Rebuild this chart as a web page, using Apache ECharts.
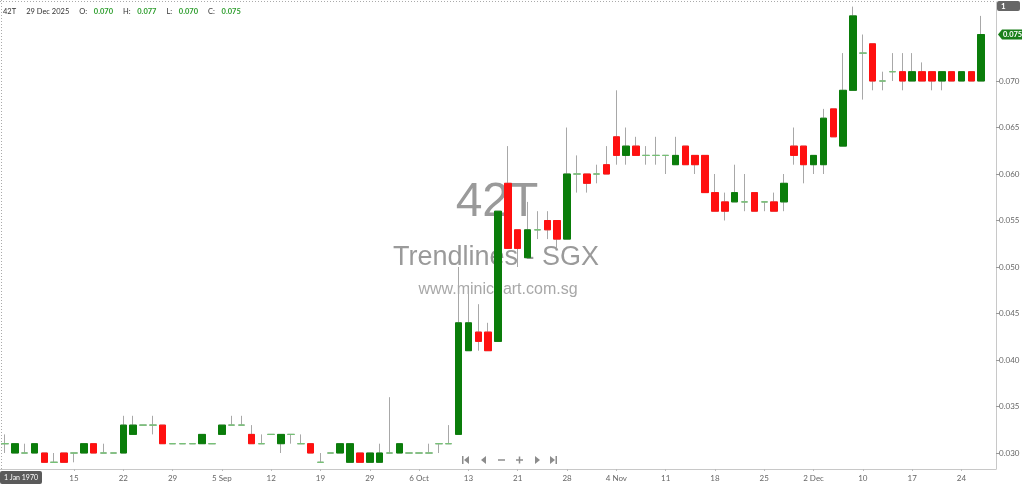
<!DOCTYPE html>
<html>
<head>
<meta charset="utf-8">
<script src="https://cdn.jsdelivr.net/npm/echarts@6/dist/echarts.min.js"></script>
<style>
  html, body { margin: 0; padding: 0; background: #fff; }
  #main { width: 1024px; height: 484px; }
</style>
</head>
<body>
<div id="main"></div>
<script>
// trading days shown on the chart
var dates = [
  '2025-08-05','2025-08-06','2025-08-07','2025-08-08','2025-08-12','2025-08-13','2025-08-14','2025-08-15',
  '2025-08-18','2025-08-19','2025-08-20','2025-08-21','2025-08-22','2025-08-25','2025-08-26','2025-08-27',
  '2025-08-28','2025-08-29','2025-09-01','2025-09-02','2025-09-03','2025-09-04','2025-09-05','2025-09-08',
  '2025-09-09','2025-09-10','2025-09-11','2025-09-12','2025-09-15','2025-09-16','2025-09-17','2025-09-18',
  '2025-09-19','2025-09-22','2025-09-23','2025-09-24','2025-09-25','2025-09-29','2025-09-30','2025-10-01',
  '2025-10-02','2025-10-03','2025-10-06','2025-10-07','2025-10-08','2025-10-09','2025-10-10','2025-10-13',
  '2025-10-14','2025-10-15','2025-10-16','2025-10-17','2025-10-21','2025-10-22','2025-10-23','2025-10-24',
  '2025-10-27','2025-10-28','2025-10-29','2025-10-30','2025-10-31','2025-11-03','2025-11-04','2025-11-05',
  '2025-11-06','2025-11-07','2025-11-10','2025-11-11','2025-11-12','2025-11-13','2025-11-14','2025-11-17',
  '2025-11-18','2025-11-19','2025-11-20','2025-11-21','2025-11-24','2025-11-25','2025-11-26','2025-11-27',
  '2025-11-28','2025-12-01','2025-12-02','2025-12-03','2025-12-04','2025-12-05','2025-12-08','2025-12-10',
  '2025-12-11','2025-12-12','2025-12-15','2025-12-16','2025-12-17','2025-12-18','2025-12-19','2025-12-22',
  '2025-12-23','2025-12-24','2025-12-26','2025-12-29'
];

var opens = [
  .031,.030,.030,.030,.030,.029,.030,.030,.030,.031,.030,.030,.030,.032,.033,.033,.033,.031,.031,.031,
  .031,.031,.032,.033,.033,.032,.031,.032,.031,.032,.031,.031,.029,.030,.030,.029,.030,.029,.029,.030,
  .030,.030,.030,.030,.031,.031,.032,.041,.043,.043,.042,.059,.054,.051,.054,.055,.055,.053,.060,.060,
  .060,.061,.064,.062,.063,.062,.062,.062,.061,.063,.062,.062,.058,.057,.057,.057,.058,.057,.057,.057,
  .063,.063,.061,.061,.067,.063,.069,.073,.074,.070,.071,.071,.070,.071,.071,.070,.071,.070,.071,.070
];
var highs = [
  .032,.031,.031,.031,.030,.030,.030,.030,.031,.031,.031,.030,.034,.034,.033,.034,.033,.031,.031,.031,
  .032,.031,.033,.034,.034,.033,.032,.032,.032,.032,.032,.031,.030,.030,.031,.031,.030,.030,.031,.036,
  .031,.030,.030,.031,.031,.033,.050,.048,.046,.044,.056,.063,.054,.057,.056,.056,.055,.065,.062,.060,
  .061,.063,.069,.065,.064,.063,.064,.062,.064,.063,.062,.062,.060,.058,.061,.060,.058,.057,.058,.060,
  .065,.063,.062,.067,.067,.073,.078,.075,.074,.071,.073,.073,.073,.072,.071,.071,.071,.071,.071,.077
];
var lows = [
  .030,.030,.030,.030,.029,.029,.029,.029,.030,.030,.030,.030,.030,.032,.033,.032,.031,.031,.031,.031,
  .031,.031,.032,.033,.033,.031,.031,.032,.030,.031,.031,.030,.029,.030,.030,.029,.029,.029,.029,.030,
  .030,.030,.030,.030,.030,.031,.032,.041,.041,.041,.042,.052,.050,.051,.053,.053,.052,.053,.058,.058,
  .059,.060,.061,.061,.062,.061,.061,.060,.061,.061,.060,.058,.056,.055,.057,.056,.056,.056,.056,.056,
  .061,.059,.060,.060,.064,.063,.069,.068,.069,.069,.070,.069,.070,.070,.069,.069,.070,.070,.070,.070
];
var closes = [
  .031,.031,.030,.031,.029,.029,.029,.030,.031,.030,.030,.030,.033,.033,.033,.033,.031,.031,.031,.031,
  .032,.031,.033,.033,.033,.031,.031,.032,.032,.032,.031,.030,.029,.030,.031,.031,.029,.030,.030,.030,
  .031,.030,.030,.030,.031,.031,.044,.044,.042,.041,.056,.052,.052,.054,.054,.054,.053,.060,.060,.059,
  .060,.060,.062,.063,.062,.062,.062,.062,.062,.061,.061,.058,.056,.056,.058,.057,.056,.057,.056,.059,
  .062,.061,.062,.066,.064,.069,.077,.073,.070,.070,.071,.070,.071,.070,.070,.071,.070,.071,.070,.075
];

var xTickIdx = [7, 12, 17, 22, 27, 32, 37, 42, 47, 52, 57, 62, 67, 72, 77, 82, 87, 92, 97];
var xTickLabels = ['15','22','29','5 Sep','12','19','29','6 Oct','13','21','28','4 Nov','11','18','25','2 Dec','10','17','24'];
var yTicks = [0.030, 0.035, 0.040, 0.045, 0.050, 0.055, 0.060, 0.065, 0.070];

var wickData = dates.map(function (d, i) { return [opens[i], closes[i], lows[i], highs[i]]; });
var bodyData = dates.map(function (d, i) {
  return [opens[i], closes[i], Math.min(opens[i], closes[i]), Math.max(opens[i], closes[i])];
});

var last = dates.length - 1;
var M = ['Jan','Feb','Mar','Apr','May','Jun','Jul','Aug','Sep','Oct','Nov','Dec'];
var lp = dates[last].split('-');
var lastDate = (+lp[2]) + ' ' + M[+lp[1] - 1] + ' ' + lp[0];

var chart = echarts.init(document.getElementById('main'));
var font = 'Lato, "Open Sans", sans-serif';

var option = {
  animation: false,
  backgroundColor: '#fff',
  grid: { left: 0, right: 28, top: 2, bottom: 15, containLabel: false },
  xAxis: {
    type: 'category',
    data: dates,
    max: 100,
    boundaryGap: true,
    axisLine: { show: true, lineStyle: { color: '#c8c8c8', width: 1 } },
    axisTick: {
      show: true, alignWithLabel: true, length: 2,
      interval: function (i) { return xTickIdx.indexOf(i) >= 0; },
      lineStyle: { color: '#bbb' }
    },
    axisLabel: {
      interval: function (i) { return xTickIdx.indexOf(i) >= 0; },
      formatter: function (v, i) {
        var k = xTickIdx.indexOf(i);
        return k >= 0 ? xTickLabels[k] : '';
      },
      color: '#666', fontSize: 8, fontFamily: font, margin: 5
    },
    splitLine: { show: false }
  },
  yAxis: {
    type: 'value',
    position: 'right',
    scale: true,
    min: 0.030 - 16 / 9300,
    max: 0.030 + 451 / 9300,
    axisLine: { show: true, lineStyle: { color: '#c8c8c8', width: 1 } },
    axisTick: { show: true, length: 3, customValues: yTicks, lineStyle: { color: '#999' } },
    axisLabel: {
      customValues: yTicks,
      formatter: function (v) { return v.toFixed(3); },
      color: '#666', fontSize: 8, fontFamily: font, margin: 3
    },
    splitLine: { show: false }
  },
  series: [
    {
      type: 'candlestick',
      name: 'wick',
      data: wickData,
      barWidth: 7,
      silent: true,
      itemStyle: {
        color: 'rgba(0,0,0,0)', color0: 'rgba(0,0,0,0)',
        borderColor: '#a8a8a8', borderColor0: '#a8a8a8', borderColorDoji: '#a8a8a8',
        borderWidth: 1
      }
    },
    {
      type: 'candlestick',
      name: 'body',
      data: bodyData,
      barWidth: 7,
      silent: true,
      itemStyle: {
        color: '#0a7d0a', color0: '#ff1010',
        borderColor: '#0a7d0a', borderColor0: '#ff1010', borderColorDoji: '#74c274',
        borderWidth: 1
      }
    }
  ]
};
chart.setOption(option);

// overlays: header, watermark, nav buttons, price tag
var tagY = chart.convertToPixel({ yAxisIndex: 0 }, closes[last]);
var grey = '#8c8c8c';
function tri(x, y, dir) {
  return dir < 0 ? [[x + 5, y - 4], [x + 5, y + 4], [x, y]] : [[x, y - 4], [x, y + 4], [x + 5, y]];
}
var navY = 460;
chart.setOption({
  graphic: [
    // dotted frame
    { type: 'line', shape: { x1: 0, y1: 1.5, x2: 996, y2: 1.5 }, style: { stroke: '#aaa', lineDash: [1, 2], lineWidth: 1 }, silent: true },
    { type: 'line', shape: { x1: 1.5, y1: 0, x2: 1.5, y2: 469 }, style: { stroke: '#aaa', lineDash: [1, 2], lineWidth: 1 }, silent: true },
    // header
    {
      type: 'text', left: 3, top: 6, silent: true,
      style: {
        text: '{k|42T}   {k|' + lastDate + '}   {k|O:}  {v|' + opens[last].toFixed(3) + '}   {k|H:}  {v|' + highs[last].toFixed(3) +
          '}   {k|L:}  {v|' + lows[last].toFixed(3) + '}   {k|C:}  {v|' + closes[last].toFixed(3) + '}',
        rich: {
          k: { fill: '#333', fontSize: 7.5, fontFamily: font },
          v: { fill: '#2e9e2e', fontSize: 7.5, fontFamily: font, fontWeight: 'bold' }
        }
      }
    },
    // watermark
    { type: 'text', x: 497, y: 203, silent: true, z: -1,
      style: { text: '42T', fill: '#9a9a9a', fontSize: 48, fontFamily: 'Liberation Sans, Arial, sans-serif', align: 'center', verticalAlign: 'middle' } },
    { type: 'text', x: 496, y: 258, silent: true, z: -1,
      style: { text: 'Trendlines - SGX', fill: '#9a9a9a', fontSize: 27, fontFamily: 'Liberation Sans, Arial, sans-serif', align: 'center', verticalAlign: 'middle' } },
    { type: 'text', x: 498, y: 290, silent: true, z: -1,
      style: { text: 'www.minichart.com.sg', fill: '#a8a8a8', fontSize: 16, fontFamily: 'Liberation Sans, Arial, sans-serif', align: 'center', verticalAlign: 'middle' } },
    // nav buttons
    { type: 'rect', shape: { x: 462, y: navY - 4, width: 1.5, height: 8 }, style: { fill: grey }, silent: true },
    { type: 'polygon', shape: { points: tri(464, navY, -1) }, style: { fill: grey }, silent: true },
    { type: 'polygon', shape: { points: tri(481, navY, -1) }, style: { fill: grey }, silent: true },
    { type: 'rect', shape: { x: 498, y: navY - 0.75, width: 7, height: 1.5 }, style: { fill: grey }, silent: true },
    { type: 'rect', shape: { x: 516, y: navY - 0.75, width: 7, height: 1.5 }, style: { fill: grey }, silent: true },
    { type: 'rect', shape: { x: 518.75, y: navY - 3.5, width: 1.5, height: 7 }, style: { fill: grey }, silent: true },
    { type: 'polygon', shape: { points: tri(535, navY, 1) }, style: { fill: grey }, silent: true },
    { type: 'polygon', shape: { points: tri(550, navY, 1) }, style: { fill: grey }, silent: true },
    { type: 'rect', shape: { x: 555.5, y: navY - 4, width: 1.5, height: 8 }, style: { fill: grey }, silent: true },
    // crosshair date box
    { type: 'rect', shape: { x: 0, y: 471, width: 42, height: 13, r: 2 }, style: { fill: '#5a5a5a' }, silent: true },
    { type: 'text', x: 21, y: 477.5, silent: true,
      style: { text: '1 Jan 1970', fill: '#fff', fontSize: 7, fontFamily: font, align: 'center', verticalAlign: 'middle' } },
    // top-right box
    { type: 'rect', shape: { x: 997, y: 1, width: 23, height: 10, r: 2 }, style: { fill: '#666' }, silent: true },
    { type: 'text', x: 1001, y: 6, silent: true,
      style: { text: '1', fill: '#fff', fontSize: 8, fontFamily: font, fontWeight: 'bold', verticalAlign: 'middle' } },
    // last price tag
    { type: 'polygon', silent: true,
      shape: { points: [[998, tagY], [1002, tagY - 5], [1022, tagY - 5], [1022, tagY + 5], [1002, tagY + 5]] },
      style: { fill: '#1a7f1a' } },
    { type: 'text', x: 1003, y: tagY, silent: true,
      style: { text: closes[last].toFixed(3), fill: '#fff', fontSize: 7.5, fontFamily: font, fontWeight: 'bold', verticalAlign: 'middle' } }
  ]
});
</script>
</body>
</html>
